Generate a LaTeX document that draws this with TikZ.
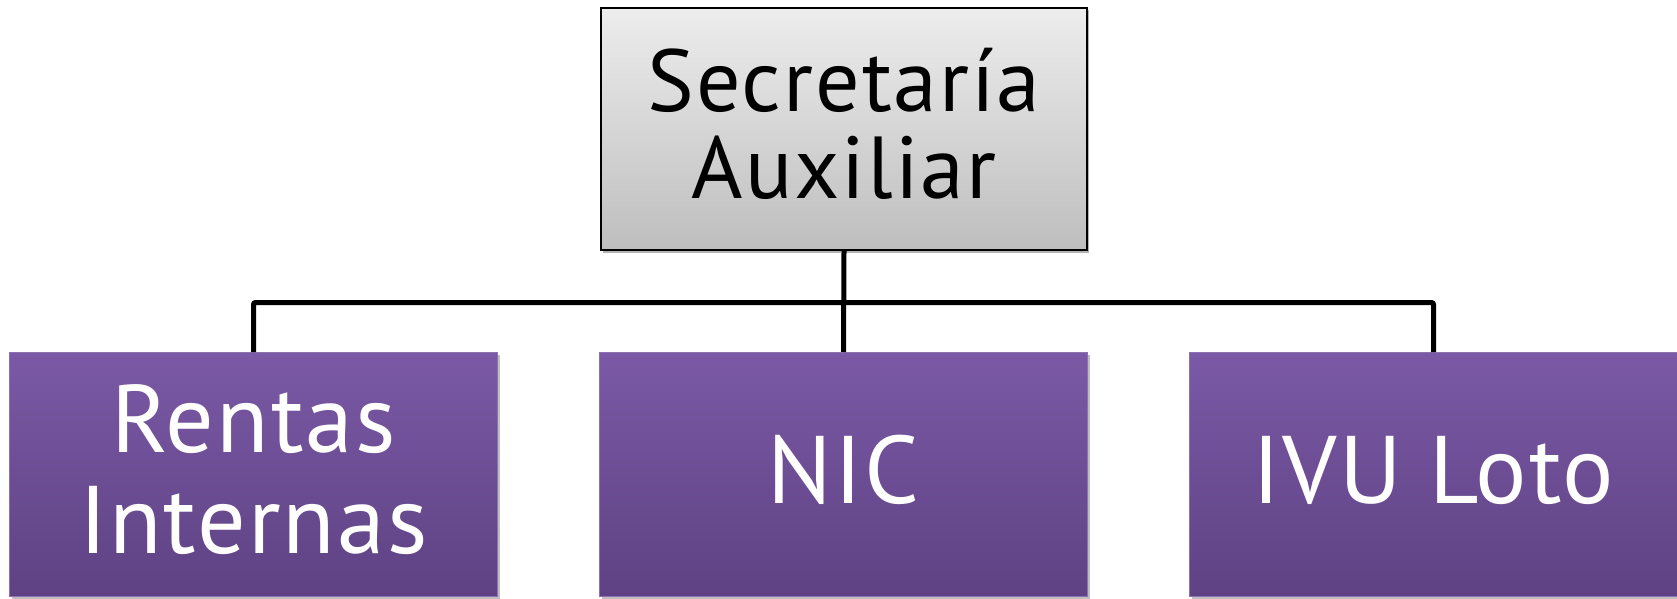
\documentclass[tikz,border=0pt]{standalone}
\usepackage{fontspec}
\setmainfont{PT Sans}[LetterSpace=2.2]
\usetikzlibrary{shadows}
\definecolor{graytop}{HTML}{EDEDED}
\definecolor{graybot}{HTML}{BEBEBE}
\definecolor{purptop}{HTML}{7B59A6}
\definecolor{purpbot}{HTML}{5E4283}
\definecolor{purpline}{HTML}{8C72B2}
\newcommand{\liftup}[2]{\raisebox{0pt}[\height][\dimexpr\depth+#1\relax]{#2}}
\tikzset{
  headbox/.style={draw=black, line width=1.6pt, top color=graytop, bottom color=graybot,
    minimum width=486pt, minimum height=242pt, inner sep=0pt, align=center,
    text=black, font=\fontsize{88}{87}\selectfont,
    drop shadow={shadow xshift=2pt, shadow yshift=-2.5pt, opacity=0.3, fill=black}},
  unitbox/.style={draw=purpline, line width=1pt, top color=purptop, bottom color=purpbot,
    minimum width=488pt, minimum height=244pt, inner sep=0pt, align=center,
    text=white, font=\fontsize{96}{101}\selectfont,
    drop shadow={shadow xshift=2pt, shadow yshift=-2pt, opacity=0.25, fill=black}},
  link/.style={draw=black, line width=5pt, rounded corners=2pt}
}
\begin{document}
\begin{tikzpicture}[x=1pt,y=1pt]
\useasboundingbox (0,0) rectangle (1677,-599);
\coordinate (bus) at (843.5,-302.5);
\node[headbox] (top) at (844,-129) {\liftup{10pt}{\parbox{486pt}{\centering Secretaría\\Auxiliar}}};
\node[unitbox] (ri) at (253.5,-474.5) {\liftup{9pt}{\parbox{488pt}{\centering Rentas\\Internas}}};
\node[unitbox] (nic) at (843.5,-474.5) {\liftup{9pt}{NIC}};
\node[unitbox] (ivu) at (1433.5,-474.5) {\liftup{9pt}{IVU Loto}};
\draw[link] (top.south) -- (nic.north);
\draw[link] (ri.north) |- (bus) -| (ivu.north);
\end{tikzpicture}
\end{document}
